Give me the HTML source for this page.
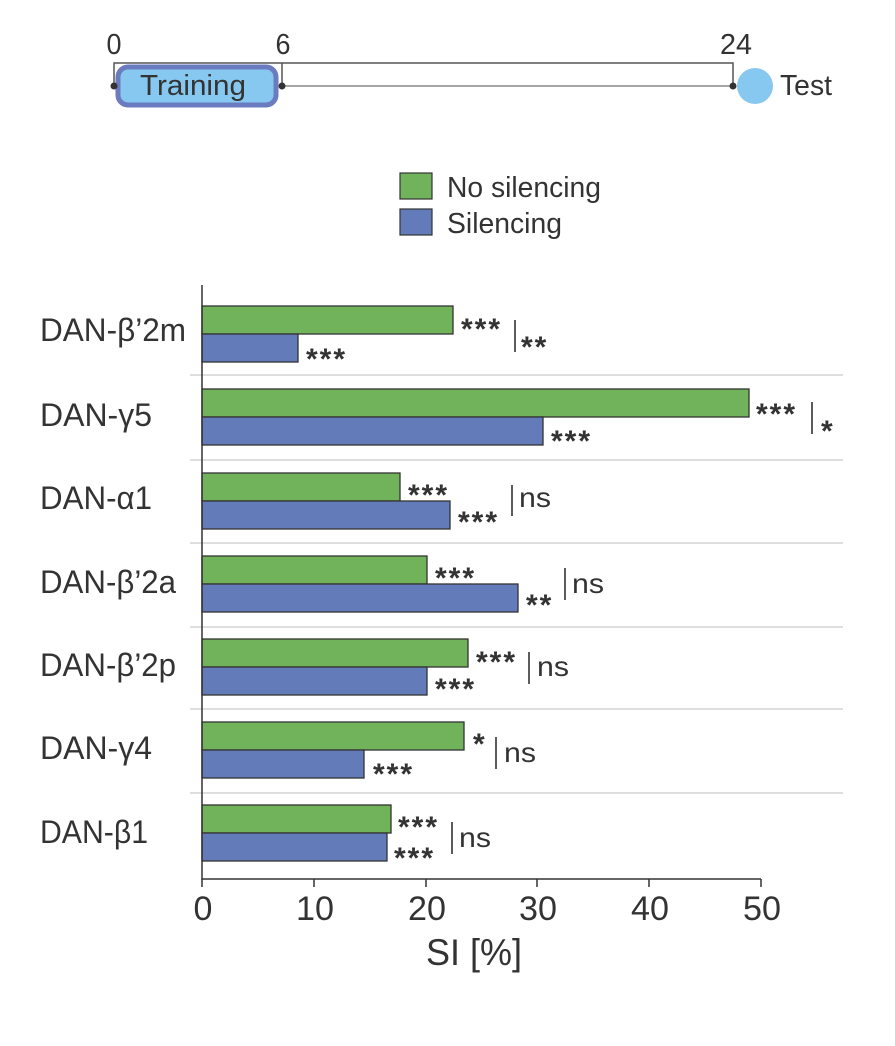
<!DOCTYPE html>
<html><head><meta charset="utf-8"><style>
body{margin:0;background:#fff}
svg text{font-family:"Liberation Sans",sans-serif;fill:#333}
</style></head><body>
<svg width="895" height="1041" xmlns="http://www.w3.org/2000/svg">
<g stroke="#555" stroke-width="1.5" fill="none">
<polyline points="114,86 114,63 733,63 733,86"/>
<line x1="282" y1="86" x2="282" y2="63"/>
<line x1="282" y1="86" x2="733" y2="86" stroke="#888"/>
</g>
<rect x="118" y="67" width="158" height="38" rx="10" fill="#86c8f0" stroke="#6a7bbf" stroke-width="5"/>
<circle cx="114" cy="86" r="3.5" fill="#333"/><circle cx="282" cy="86" r="3.5" fill="#333"/><circle cx="733" cy="86" r="3.5" fill="#333"/>
<circle cx="755" cy="86" r="18" fill="#86c8f0"/>
<text x="193" y="95" font-size="29" text-anchor="middle" textLength="106" lengthAdjust="spacingAndGlyphs">Training</text>
<text x="780" y="95" font-size="29" textLength="52" lengthAdjust="spacingAndGlyphs">Test</text>
<text x="114" y="54" font-size="29" text-anchor="middle" textLength="15" lengthAdjust="spacingAndGlyphs">0</text>
<text x="283" y="54" font-size="29" text-anchor="middle" textLength="15" lengthAdjust="spacingAndGlyphs">6</text>
<text x="736" y="54" font-size="29" text-anchor="middle" textLength="32" lengthAdjust="spacingAndGlyphs">24</text>
<rect x="400" y="173" width="32" height="26" fill="#70b35a" stroke="#333" stroke-width="1.2"/>
<rect x="400" y="209" width="32" height="26" fill="#637bb8" stroke="#333" stroke-width="1.2"/>
<text x="447" y="197" font-size="29" textLength="154" lengthAdjust="spacingAndGlyphs">No silencing</text>
<text x="447" y="233" font-size="29" textLength="115" lengthAdjust="spacingAndGlyphs">Silencing</text>
<g stroke="#ccc" stroke-width="1.2">
<line x1="190" y1="375" x2="843" y2="375"/><line x1="190" y1="460" x2="843" y2="460"/>
<line x1="190" y1="543" x2="843" y2="543"/><line x1="190" y1="627" x2="843" y2="627"/>
<line x1="190" y1="709" x2="843" y2="709"/><line x1="190" y1="793" x2="843" y2="793"/>
</g>
<g stroke="#333" stroke-width="1.3">
<rect x="202" y="306" width="251" height="28" fill="#70b35a"/><rect x="202" y="334" width="96" height="28" fill="#637bb8"/>
<rect x="202" y="389" width="547" height="28" fill="#70b35a"/><rect x="202" y="417" width="341" height="28" fill="#637bb8"/>
<rect x="202" y="473" width="198" height="28" fill="#70b35a"/><rect x="202" y="501" width="248" height="28" fill="#637bb8"/>
<rect x="202" y="556" width="225" height="28" fill="#70b35a"/><rect x="202" y="584" width="316" height="28" fill="#637bb8"/>
<rect x="202" y="639" width="266" height="28" fill="#70b35a"/><rect x="202" y="667" width="225" height="28" fill="#637bb8"/>
<rect x="202" y="722" width="262" height="28" fill="#70b35a"/><rect x="202" y="750" width="162" height="28" fill="#637bb8"/>
<rect x="202" y="805" width="189" height="28" fill="#70b35a"/><rect x="202" y="833" width="185" height="28" fill="#637bb8"/>
</g>
<g stroke="#333" stroke-width="1.5">
<line x1="202" y1="285" x2="202" y2="880"/>
<line x1="202" y1="879" x2="761" y2="879"/>
<line x1="202" y1="879" x2="202" y2="887"/><line x1="314" y1="879" x2="314" y2="887"/>
<line x1="426" y1="879" x2="426" y2="887"/><line x1="537" y1="879" x2="537" y2="887"/>
<line x1="649" y1="879" x2="649" y2="887"/><line x1="761" y1="879" x2="761" y2="887"/>
</g>
<g font-size="34" text-anchor="middle">
<text x="203" y="920">0</text><text x="315" y="920" textLength="38" lengthAdjust="spacingAndGlyphs">10</text><text x="427" y="920" textLength="38" lengthAdjust="spacingAndGlyphs">20</text>
<text x="538" y="920" textLength="38" lengthAdjust="spacingAndGlyphs">30</text><text x="650" y="920" textLength="38" lengthAdjust="spacingAndGlyphs">40</text><text x="762" y="920" textLength="38" lengthAdjust="spacingAndGlyphs">50</text>
</g>
<text x="474" y="965" font-size="37" text-anchor="middle" textLength="96" lengthAdjust="spacingAndGlyphs">SI [%]</text>
<g font-size="32">
<text x="40" y="341" textLength="146" lengthAdjust="spacingAndGlyphs">DAN-β’2m</text>
<text x="40" y="426" textLength="112" lengthAdjust="spacingAndGlyphs">DAN-γ5</text>
<text x="40" y="509" textLength="112" lengthAdjust="spacingAndGlyphs">DAN-α1</text>
<text x="40" y="593" textLength="136" lengthAdjust="spacingAndGlyphs">DAN-β’2a</text>
<text x="40" y="676" textLength="136" lengthAdjust="spacingAndGlyphs">DAN-β’2p</text>
<text x="40" y="759" textLength="112" lengthAdjust="spacingAndGlyphs">DAN-γ4</text>
<text x="40" y="843" textLength="108" lengthAdjust="spacingAndGlyphs">DAN-β1</text>
</g>
<g font-size="30" font-weight="bold" letter-spacing="2">
<text x="461" y="339">***</text><text x="306" y="369">***</text>
<text x="756" y="424">***</text><text x="551" y="451">***</text>
<text x="408" y="505">***</text><text x="458" y="532">***</text>
<text x="435" y="588">***</text><text x="526" y="615">**</text>
<text x="476" y="672">***</text><text x="435" y="699">***</text>
<text x="473" y="754">*</text><text x="373" y="784">***</text>
<text x="398" y="837">***</text><text x="394" y="868">***</text>
<text x="521" y="357">**</text><text x="821" y="441">*</text>
</g>
<g stroke="#333" stroke-width="1.6">
<line x1="515" y1="320" x2="515" y2="352"/><line x1="812" y1="402" x2="812" y2="434"/>
<line x1="512" y1="485" x2="512" y2="516"/><line x1="565" y1="568" x2="565" y2="600"/>
<line x1="529" y1="652" x2="529" y2="684"/><line x1="496" y1="737" x2="496" y2="769"/>
<line x1="452" y1="822" x2="452" y2="854"/>
</g>
<g font-size="28">
<text x="519" y="507" textLength="32" lengthAdjust="spacingAndGlyphs">ns</text><text x="572" y="593" textLength="32" lengthAdjust="spacingAndGlyphs">ns</text><text x="537" y="676" textLength="32" lengthAdjust="spacingAndGlyphs">ns</text>
<text x="504" y="762" textLength="32" lengthAdjust="spacingAndGlyphs">ns</text><text x="459" y="847" textLength="32" lengthAdjust="spacingAndGlyphs">ns</text>
</g>
</svg>
</body></html>
